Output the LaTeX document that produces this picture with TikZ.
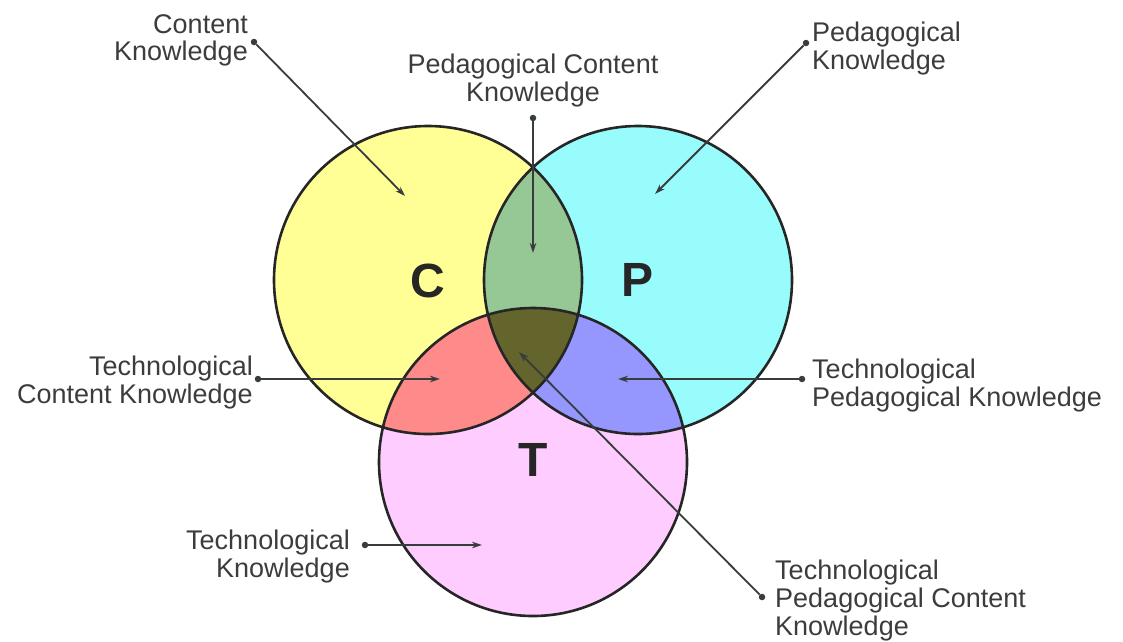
\documentclass[tikz,border=0pt]{standalone}
\usepackage{fontspec}
\setmainfont{Liberation Sans}
\usetikzlibrary{arrows.meta}

\definecolor{cyellow}{RGB}{255,255,150}
\definecolor{pcyan}{RGB}{152,252,252}
\definecolor{tpink}{RGB}{255,204,255}
\definecolor{cpgreen}{RGB}{150,200,150}
\definecolor{ctred}{RGB}{255,138,138}
\definecolor{ptblue}{RGB}{150,150,255}
\definecolor{allolive}{RGB}{100,100,45}
\definecolor{textgray}{RGB}{60,60,60}
\definecolor{linegray}{RGB}{55,60,60}

\begin{document}
\begin{tikzpicture}[x=1pt,y=-1pt,
  lbl/.style={inner sep=0pt,text=textgray,font=\fontsize{27}{27.8}\selectfont},
  dot/.style={circle,fill=linegray,inner sep=0pt,minimum size=6.5pt},
  pointer/.style={linegray,line width=1.8pt,-{Stealth[length=10pt,width=6.5pt]}},
  big/.style={inner sep=0pt,text=black!85,font=\fontsize{48}{48}\selectfont\bfseries}]

\useasboundingbox (0,0) rectangle (1123,641);

\coordinate (c) at (428,280);
\coordinate (p) at (638,280);
\coordinate (t) at (533,462);

% the three sets
\fill[cyellow] (c) circle (154pt);
\fill[pcyan] (p) circle (154pt);
\fill[tpink] (t) circle (154pt);

% overlaps
\begin{scope}
\clip (c) circle (154pt);
\fill[cpgreen] (p) circle (154pt);
\fill[ctred] (t) circle (154pt);
\end{scope}
\begin{scope}
\clip (p) circle (154pt);
\fill[ptblue] (t) circle (154pt);
\clip (c) circle (154pt);
\fill[allolive] (t) circle (154pt);
\end{scope}

\draw[line width=2.6pt,black!85] (c) circle (154pt) (p) circle (154pt) (t) circle (154pt);

\node[big] (cbig) at (428,281) {C};
\node[big] (pbig) at (637,280) {P};
\node[big] (tbig) at (533,460) {T};

% labels
\node[lbl,anchor=north east,align=right] (cklbl) at (248,14) {Content\\Knowledge};
\node[lbl,anchor=north,align=center] (pcklbl) at (533,54) {Pedagogical Content\\Knowledge};
\node[lbl,anchor=north west,align=left] (pklbl) at (812,22) {Pedagogical\\Knowledge};
\node[lbl,anchor=north east,align=right] (tcklbl) at (253,356) {Technological\\Content Knowledge};
\node[lbl,anchor=north west,align=left] (tpklbl) at (812,359) {Technological\\Pedagogical Knowledge};
\node[lbl,anchor=north east,align=right] (tklbl) at (350,530) {Technological\\Knowledge};
\node[lbl,anchor=north west,align=left] (tpcklbl) at (775,560) {Technological\\Pedagogical Content\\Knowledge};

% dots and arrows
\node[dot] (ckdot) at (254,42) {};
\node[dot] (pckdot) at (533,118) {};
\node[dot] (pkdot) at (806,43) {};
\node[dot] (tckdot) at (258,379) {};
\node[dot] (tpkdot) at (802,379) {};
\node[dot] (tkdot) at (365,545) {};
\node[dot] (tpckdot) at (762,597) {};

\coordinate (cktip) at (405,196);
\coordinate (pcktip) at (533,253);
\coordinate (pktip) at (655,194);
\coordinate (tcktip) at (440,379);
\coordinate (tpktip) at (618,379);
\coordinate (tktip) at (482,545);
\coordinate (tpcktip) at (519,352);

\draw[pointer] (ckdot) -- (cktip);
\draw[pointer] (pckdot) -- (pcktip);
\draw[pointer] (pkdot) -- (pktip);
\draw[pointer] (tckdot) -- (tcktip);
\draw[pointer] (tpkdot) -- (tpktip);
\draw[pointer] (tkdot) -- (tktip);
\draw[pointer] (tpckdot) -- (tpcktip);
\end{tikzpicture}
\end{document}
